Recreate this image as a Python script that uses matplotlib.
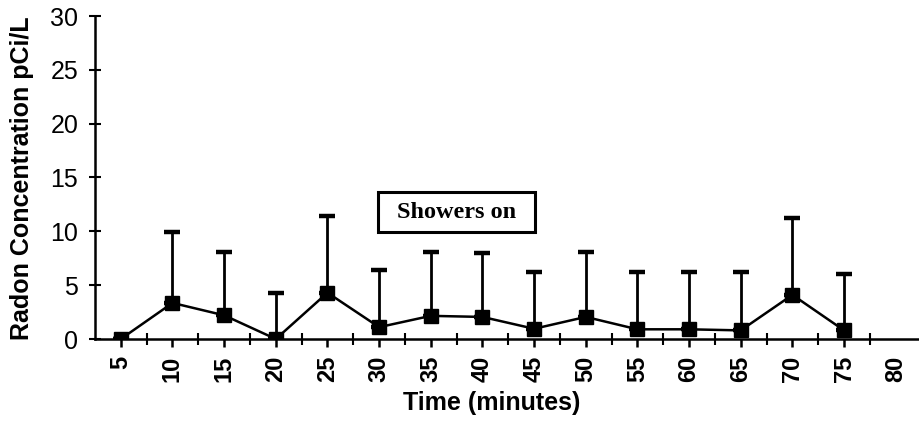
import numpy as np
import matplotlib
matplotlib.use("Agg")
import matplotlib.pyplot as plt
from matplotlib.patches import Rectangle

# Radon concentration during showering, mean with upper error bar
time_min = [5, 10, 15, 20, 25, 30, 35, 40, 45, 50, 55, 60, 65, 70, 75]
radon = [0.0, 3.35, 2.2, 0.0, 4.3, 1.1, 2.15, 2.05, 0.95, 2.05, 0.9, 0.9, 0.8, 4.1, 0.8]
upper = [0.0, 9.9, 8.1, 4.3, 11.45, 6.4, 8.1, 8.0, 6.25, 8.05, 6.2, 6.2, 6.2, 11.2, 6.05]
tick_labels = [5, 10, 15, 20, 25, 30, 35, 40, 45, 50, 55, 60, 65, 70, 75, 80]

plt.rcParams['font.family'] = ['Liberation Sans', 'DejaVu Sans']

fig = plt.figure(figsize=(9.2, 4.23), dpi=100)
ax = fig.add_axes([95 / 920, 84 / 423, 825 / 920, 323 / 423])

err_up = np.array(upper) - np.array(radon)
err_up[err_up < 0] = 0
ax.errorbar(time_min, radon, yerr=[np.zeros(len(radon)), err_up],
            fmt='none', ecolor='black', elinewidth=2.0, capsize=6, capthick=3.2, zorder=2)
ax.plot(time_min, radon, color='black', linewidth=1.8, marker='s',
        markersize=10, markerfacecolor='black', zorder=3)

ax.set_xlim(2.5, 82.35)
ax.set_ylim(0, 30)
ax.set_yticks(np.arange(0, 31, 5))
ax.set_xticks(tick_labels)
ax.set_xticklabels([str(t) for t in tick_labels], rotation=90, fontweight='bold', fontsize=17)
ax.set_xticks(np.arange(7.5, 80, 5), minor=True)
ax.xaxis.get_major_ticks()[-1].tick1line.set_visible(False)

ax.tick_params(axis='y', direction='inout', length=8, width=1.5, labelsize=18, pad=8)
ax.tick_params(axis='x', which='major', direction='out', length=6, width=1.8, pad=6)
ax.tick_params(axis='x', which='minor', direction='inout', length=8, width=1.5)

for side in ['top', 'right']:
    ax.spines[side].set_visible(False)
for side in ['left', 'bottom']:
    ax.spines[side].set_linewidth(1.8)

fig.text(22 / 920, 1 - 178 / 423, 'Radon Concentration pCi/L', rotation=90,
         ha='center', va='center', fontsize=18, fontweight='bold')
fig.text(492 / 920, 1 - 403 / 423, 'Time (minutes)', ha='center', va='center',
         fontsize=18, fontweight='bold')

# annotation box
ax.add_patch(Rectangle((0.343, 0.331), 0.19, 0.124, transform=ax.transAxes,
                       fill=False, edgecolor='black', linewidth=2.2, zorder=4))
ax.text(0.438, 0.393, 'Showers on', transform=ax.transAxes, ha='center', va='center',
        fontsize=17.5, fontweight='bold', family=['Liberation Serif', 'DejaVu Serif'])

fig.savefig('out.png', dpi=100)
